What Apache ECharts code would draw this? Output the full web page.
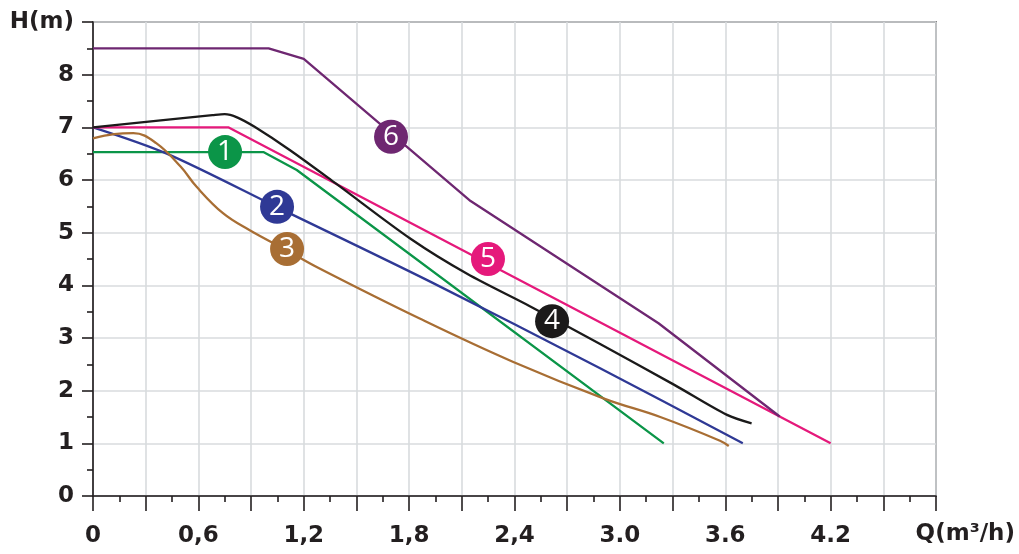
<!DOCTYPE html>
<html>
<head>
<meta charset="utf-8">
<script src="https://cdn.jsdelivr.net/npm/echarts@6/dist/echarts.min.js"></script>
<style>
html,body{margin:0;padding:0;background:#fff;}
#chart{width:1019px;height:554px;}
</style>
</head>
<body>
<div id="chart"></div>
<script>
// ---- data (Q in m3/h, H in m) ----
const curve1 = [[0,6.53],[0.97,6.53],[1.16,6.19],[3.25,1.0]];
const curve2 = [[0,7.0],[0.42,6.50],[1.05,5.48],[1.92,4.07],[2.89,2.42],[3.70,1.0]];
const curve3 = [[0,6.79],[0.12,6.87],[0.23,6.89],[0.36,6.70],[0.50,6.25],[0.59,5.87],[0.74,5.37],[0.89,5.05],[1.10,4.67],[1.29,4.32],[1.86,3.37],[2.39,2.55],[2.91,1.85],[3.23,1.50],[3.57,1.05],[3.62,0.95]];
const curve4 = [[0,7.0],[0.68,7.23],[0.75,7.25],[0.82,7.19],[0.92,7.01],[1.12,6.57],[1.38,5.94],[1.81,4.88],[2.13,4.22],[2.49,3.60],[2.89,2.88],[3.31,2.11],[3.61,1.54],[3.75,1.38]];
const curve5 = [[0,7.0],[0.77,7.0],[4.2,1.0]];
const curve6 = [[0,8.5],[1.0,8.5],[1.2,8.3],[2.15,5.6],[3.22,3.28],[3.91,1.51]];

const badgeLabels = ['1','2','3','4','5','6'];
const badgeX = [0.752,1.048,1.105,2.614,2.249,1.697];
const badgeY = [6.53,5.49,4.69,3.32,4.50,6.82];

const xTickValues = [0,0.6,1.2,1.8,2.4,3.0,3.6,4.2];
const xTickLabels = ['0','0,6','1,2','1,8','2,4','3.0','3.6','4.2'];
const yTickLabels = ['0','1','2','3','4','5','6','7','8','H(m)'];
const xAxisName = 'Q(m³/h)';

const colors = ['#0b9548','#2f3995','#a86e34','#1b1a1a','#e5197b','#6e2771'];
const curves = [curve1,curve2,curve3,curve4,curve5,curve6];
const smooth = [false,0.3,0.4,0.3,false,false];

const labelFont = {fontFamily:'DejaVu Sans', fontWeight:'bold', fontSize:23, color:'#231f20'};

const series = curves.map((c,i)=>({
  type:'line',
  data:c,
  symbol:'none',
  smooth:smooth[i],
  lineStyle:{color:colors[i], width:2.3},
  z: 3 + (i===3?1:0),
  markPoint:{
    symbol:'circle',
    symbolSize:34,
    itemStyle:{color:colors[i]},
    label:{show:true, formatter:badgeLabels[i], color:'#fff', fontSize:28, fontFamily:'Open Sans'},
    data:[{coord:[badgeX[i],badgeY[i]]}]
  }
}));

const chart = echarts.init(document.getElementById('chart'), null, {renderer:'canvas'});
chart.setOption({
  animation:false,
  backgroundColor:'#fff',
  grid:{left:93, right:83, top:22, bottom:58, show:true, borderColor:'#2a2a2a', borderWidth:1.5},
  xAxis:{
    type:'value', min:0, max:4.8, interval:0.3,
    axisLine:{lineStyle:{color:'#231f20', width:1.6}},
    axisTick:{show:true, length:15, lineStyle:{color:'#231f20', width:1.6}},
    minorTick:{show:true, splitNumber:2, length:6, lineStyle:{color:'#231f20', width:1.6}},
    splitLine:{show:true, lineStyle:{color:'#d8dbde', width:1.6}},
    axisLabel:Object.assign({margin:29, formatter:function(v){
      const r = Math.round(v*10)/10;
      const idx = xTickValues.findIndex(t=>Math.abs(t-r)<1e-6);
      return idx>=0 ? xTickLabels[idx] : '';
    }}, labelFont)
  },
  yAxis:{
    type:'value', min:0, max:9, interval:1,
    axisLine:{lineStyle:{color:'#231f20', width:1.6}},
    axisTick:{show:true, length:11, lineStyle:{color:'#231f20', width:1.6}},
    minorTick:{show:true, splitNumber:2, length:6, lineStyle:{color:'#231f20', width:1.6}},
    splitLine:{show:true, lineStyle:{color:'#d8dbde', width:1.6}},
    axisLabel:Object.assign({margin:19, formatter:function(v){
      return yTickLabels[Math.round(v)];
    }}, labelFont)
  },
  graphic:[{
    type:'text', right:4, top:523,
    style:{text:xAxisName, font:'bold 23px "DejaVu Sans"', fill:'#231f20'}
  }],
  series:series
});
</script>
</body>
</html>
